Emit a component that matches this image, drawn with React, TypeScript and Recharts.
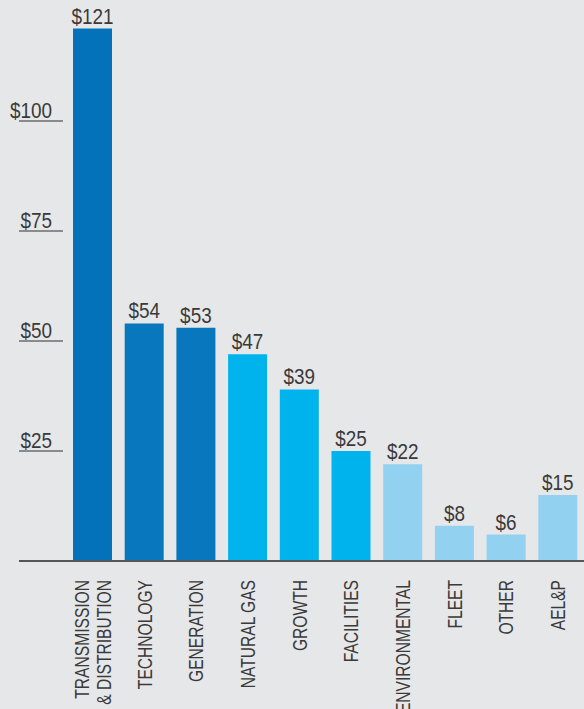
import React from "react";
import { BarChart, Bar, XAxis, YAxis, Cell, LabelList } from "recharts";

const categories = [
  "TRANSMISSION\n& DISTRIBUTION",
  "TECHNOLOGY",
  "GENERATION",
  "NATURAL GAS",
  "GROWTH",
  "FACILITIES",
  "ENVIRONMENTAL",
  "FLEET",
  "OTHER",
  "AEL&P",
];
const values = [121, 54, 53, 47, 39, 25, 22, 8, 6, 15];
const barColors = [
  "#0472bb", "#0877bd", "#0877bd",
  "#00b3ec", "#00b3ec", "#00b3ec",
  "#93d1f1", "#93d1f1", "#93d1f1", "#93d1f1",
];
const yTicks = [0, 25, 50, 75, 100];

const data = categories.map((c, i) => ({ name: c, value: values[i] }));

const FONT = "'Liberation Sans', Arial, sans-serif";
const TEXT = "#3a3a3a";
const NUM_SCALE = 0.86;
const CAT_SCALE = 0.78;

const YTick = (props: any) => {
  const { x, y, payload } = props;
  const v = payload.value;
  if (v === 0) {
    return <line x1={19} x2={x + 8} y1={y} y2={y} stroke="#555" strokeWidth={2} />;
  }
  return (
    <g>
      <line x1={19} x2={63} y1={y} y2={y} stroke="#6d6d6d" strokeWidth={1.5} />
      <g transform={`translate(52,${y - 3}) scale(${NUM_SCALE},1)`}>
        <text x={0} y={0} textAnchor="end" fontFamily={FONT} fontSize={22} fill={TEXT}>
          {"$" + v}
        </text>
      </g>
    </g>
  );
};

const XTick = (props: any) => {
  const { x, y, payload } = props;
  const lines = String(payload.value).split("\n");
  const n = lines.length;
  const startShift = -((n - 1) * 22) / 2 + 7;
  return (
    <g transform={`translate(${x},${y + 11}) rotate(-90) scale(${CAT_SCALE},1)`}>
      <text textAnchor="end" fontFamily={FONT} fontSize={20} fill={TEXT}>
        {lines.map((l, i) => (
          <tspan key={i} x={0} y={startShift + i * 22}>
            {l}
          </tspan>
        ))}
      </text>
    </g>
  );
};

const ValueLabel = (props: any) => {
  const { x, y, width, value } = props;
  return (
    <g transform={`translate(${x + width / 2},${y - 5}) scale(${NUM_SCALE},1)`}>
      <text x={0} y={0} textAnchor="middle" fontFamily={FONT} fontSize={22} fill={TEXT}>
        {"$" + value}
      </text>
    </g>
  );
};

export default function App() {
  return (
    <div style={{ position: "fixed", left: 0, top: 0, width: 584, height: 709, background: "#e6e7e9" }}>
      <BarChart
        width={584}
        height={709}
        data={data}
        margin={{ top: 11, right: 0, left: 0, bottom: 0 }}
        barSize={39}
      >
        <XAxis
          dataKey="name"
          interval={0}
          height={148}
          tickLine={false}
          axisLine={{ stroke: "#555", strokeWidth: 2 }}
          tick={<XTick />}
        />
        <YAxis
          width={67}
          domain={[0, 125]}
          ticks={yTicks}
          axisLine={false}
          tickLine={false}
          tick={<YTick />}
        />
        <Bar dataKey="value" isAnimationActive={false}>
          {data.map((_, i) => (
            <Cell key={i} fill={barColors[i]} />
          ))}
          <LabelList dataKey="value" content={<ValueLabel />} />
        </Bar>
      </BarChart>
    </div>
  );
}
